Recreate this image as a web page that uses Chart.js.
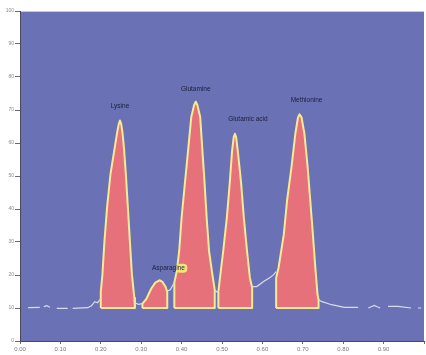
<!DOCTYPE html>
<html>
<head>
<meta charset="utf-8">
<script src="https://cdn.jsdelivr.net/npm/chart.js@4.4.1/dist/chart.umd.min.js"></script>
<style>
    html, body { margin: 0; padding: 0; background: #ffffff; }
    #wrap { width: 426px; height: 355px; position: relative; }
</style>
</head>
<body>
<div id="wrap"><canvas id="chromChart"></canvas></div>
<script>
// Axis tick labels
const xTickLabels = ["0.00", "0.10", "0.20", "0.30", "0.40", "0.50", "0.60", "0.70", "0.80", "0.90"];
const yTickLabels = ["0", "10", "20", "30", "40", "50", "60", "70", "80", "90", "100"];

// Peak names (in elution order)
const peakNames = ["Lysine", "Asparagine", "Glutamine", "Glutamic acid", "Methionine"];

// Integrated peak outlines (retention time / signal)
const lysineX = [0.200, 0.200, 0.204, 0.209, 0.2155, 0.224, 0.234, 0.240, 0.2445, 0.2475, 0.2505, 0.254, 0.2575, 0.262, 0.267, 0.272, 0.277, 0.283, 0.2845, 0.2845, 0.200];
const lysineY = [1.00, 1.49, 2.01, 3.02, 4.05, 5.06, 5.82, 6.28, 6.58, 6.68, 6.58, 6.28, 5.82, 5.06, 4.05, 3.02, 2.01, 1.31, 1.16, 1.00, 1.00];

const asparagineX = [0.303, 0.303, 0.313, 0.325, 0.335, 0.345, 0.352, 0.360, 0.3645, 0.3645, 0.303];
const asparagineY = [1.00, 1.13, 1.28, 1.59, 1.77, 1.84, 1.80, 1.65, 1.49, 1.00, 1.00];

const glutamineX = [0.382, 0.382, 0.388, 0.394, 0.400, 0.408, 0.416, 0.424, 0.431, 0.435, 0.439, 0.446, 0.4515, 0.457, 0.462, 0.468, 0.475, 0.482, 0.482, 0.382];
const glutamineY = [1.00, 1.77, 2.11, 2.72, 3.74, 4.76, 5.77, 6.79, 7.15, 7.25, 7.15, 6.79, 5.77, 4.76, 3.74, 2.72, 2.11, 1.55, 1.00, 1.00];

const glutamicX = [0.491, 0.491, 0.495, 0.503, 0.512, 0.519, 0.525, 0.529, 0.532, 0.535, 0.539, 0.5475, 0.554, 0.562, 0.569, 0.5746, 0.5746, 0.491];
const glutamicY = [1.00, 1.49, 1.91, 2.72, 3.74, 4.76, 5.77, 6.18, 6.28, 6.18, 5.77, 4.76, 3.74, 2.72, 1.91, 1.62, 1.00, 1.00];

const methionineX = [0.634, 0.634, 0.640, 0.653, 0.661, 0.672, 0.6815, 0.688, 0.692, 0.697, 0.704, 0.712, 0.7185, 0.725, 0.731, 0.7365, 0.739, 0.739, 0.634];
const methionineY = [1.00, 1.91, 2.22, 3.23, 4.25, 5.27, 6.28, 6.77, 6.87, 6.77, 6.28, 5.27, 4.25, 3.23, 2.22, 1.40, 1.25, 1.00, 1.00];

// Raw detector trace outside the integrated peaks (null = gap in the trace)
const traceX = [0.020, 0.049, 0.054, 0.059, 0.0665, 0.074, 0.082, 0.091, 0.118, 0.124, 0.1305, 0.1675, 0.177, 0.185, 0.192, 0.1995, 0.24,
                0.2845, 0.293, 0.303, 0.33,
                0.3645, 0.372, 0.382, 0.43,
                0.482, 0.488, 0.491, 0.53,
                0.5746, 0.586, 0.603, 0.618, 0.628, 0.634, 0.68,
                0.739, 0.746, 0.771, 0.803, 0.837, 0.85, 0.862, 0.8695, 0.877, 0.884, 0.8916, 0.90, 0.911, 0.936, 0.968, 0.975, 0.985, 0.993];
const traceY = [1.01, 1.02, null, 1.04, 1.07, 1.02, null, 0.99, 0.99, null, 0.99, 1.01, 1.07, 1.19, 1.16, 1.28, null,
                1.16, 1.11, 1.13, null,
                1.52, 1.55, 1.77, null,
                1.55, 1.48, 1.49, null,
                1.65, 1.65, 1.80, 1.92, 2.01, 2.10, null,
                1.25, 1.20, 1.10, 1.02, 1.02, null, 1.00, 1.04, 1.08, 1.04, 1.00, null, 1.05, 1.05, 1.00, null, 1.00, 1.00];

const peakX = [lysineX, asparagineX, glutamineX, glutamicX, methionineX];
const peakY = [lysineY, asparagineY, glutamineY, glutamicY, methionineY];

// label offsets from each peak apex (px)
const labelDx = [0, 9, 0, 13, 7];
const labelDy = [-14, -12, -13, -15, -14];

const toPoints = (xs, ys) => xs.map((x, i) => ({ x, y: ys[i] }));

const plotBg = {
    id: "plotBg",
    beforeDraw(chart) {
        const { ctx, chartArea: a } = chart;
        ctx.save();
        ctx.fillStyle = "#6a72b5";
        ctx.fillRect(a.left, a.top, a.right - a.left, a.bottom - a.top);
        ctx.strokeStyle = "#c9cbd8";
        ctx.lineWidth = 1;
        ctx.beginPath();
        ctx.moveTo(a.left, a.top + 0.5);
        ctx.lineTo(a.right, a.top + 0.5);
        ctx.stroke();
        ctx.restore();
    }
};

const peakLabels = {
    id: "peakLabels",
    afterDatasetsDraw(chart) {
        const { ctx } = chart;
        ctx.save();
        ctx.font = "6.5px 'Liberation Sans', Arial, sans-serif";
        ctx.textBaseline = "middle";
        ctx.textAlign = "left";
        peakNames.forEach((name, i) => {
            const meta = chart.getDatasetMeta(i + 1);
            let top = meta.data[0];
            meta.data.forEach(p => { if (p.y < top.y) top = p; });
            const w = ctx.measureText(name).width;
            const cx = top.x + labelDx[i];
            const cy = top.y + labelDy[i];
            const left = cx - w / 2;
            if (name === "Asparagine") {
                const wa = ctx.measureText("Asparagi").width;
                ctx.fillStyle = "#eee67a";
                ctx.beginPath();
                ctx.roundRect(left + wa - 1.5, cy - 4.5, w - wa + 4, 9, 4);
                ctx.fill();
            }
            ctx.fillStyle = "#1c1d3e";
            ctx.fillText(name, left, cy);
        });
        ctx.restore();
    }
};

const datasets = [
    {
        label: "trace",
        data: toPoints(traceX, traceY),
        borderColor: "#d9dbe9",
        borderWidth: 1.2,
        pointRadius: 0,
        spanGaps: false,
        fill: false,
        tension: 0
    },
    ...peakNames.map((name, i) => ({
        label: name,
        data: toPoints(peakX[i], peakY[i]),
        borderColor: "#f4eb92",
        backgroundColor: "#e7717a",
        borderWidth: 2,
        borderJoinStyle: "round",
        pointRadius: 0,
        fill: "shape",
        tension: 0
    }))
];

new Chart(document.getElementById("chromChart"), {
    type: "line",
    data: { datasets },
    options: {
        responsive: true,
        maintainAspectRatio: false,
        animation: false,
        events: [],
        layout: { padding: { top: 11, right: 0, bottom: 0, left: 0 } },
        plugins: {
            legend: { display: false },
            tooltip: { enabled: false },
            filler: { drawTime: "beforeDatasetDraw" }
        },
        scales: {
            x: {
                type: "linear",
                min: 0,
                max: 1.0,
                afterFit(s) { s.height = 14; },
                border: { display: true, color: "#4a4a5a", width: 1 },
                grid: { drawOnChartArea: false, drawTicks: true, tickLength: 3, color: "#6a6a7a" },
                ticks: {
                    stepSize: 0.1,
                    padding: 2,
                    maxRotation: 0,
                    autoSkip: false,
                    color: "#7a7a7a",
                    font: { size: 6, family: "'Liberation Sans', Arial, sans-serif" },
                    callback: (v, i) => xTickLabels[i] ?? ""
                }
            },
            y: {
                min: 0,
                max: 10,
                afterFit(s) { s.width = 20; },
                border: { display: true, color: "#4a4a5a", width: 1 },
                grid: { drawOnChartArea: false, drawTicks: true, tickLength: 5, color: "#6a6a7a" },
                ticks: {
                    stepSize: 1,
                    padding: 1,
                    color: "#8a8a8a",
                    font: { size: 5, family: "'Liberation Sans', Arial, sans-serif" },
                    callback: (v, i) => yTickLabels[i] ?? ""
                }
            }
        }
    },
    plugins: [plotBg, peakLabels]
});
</script>
</body>
</html>
